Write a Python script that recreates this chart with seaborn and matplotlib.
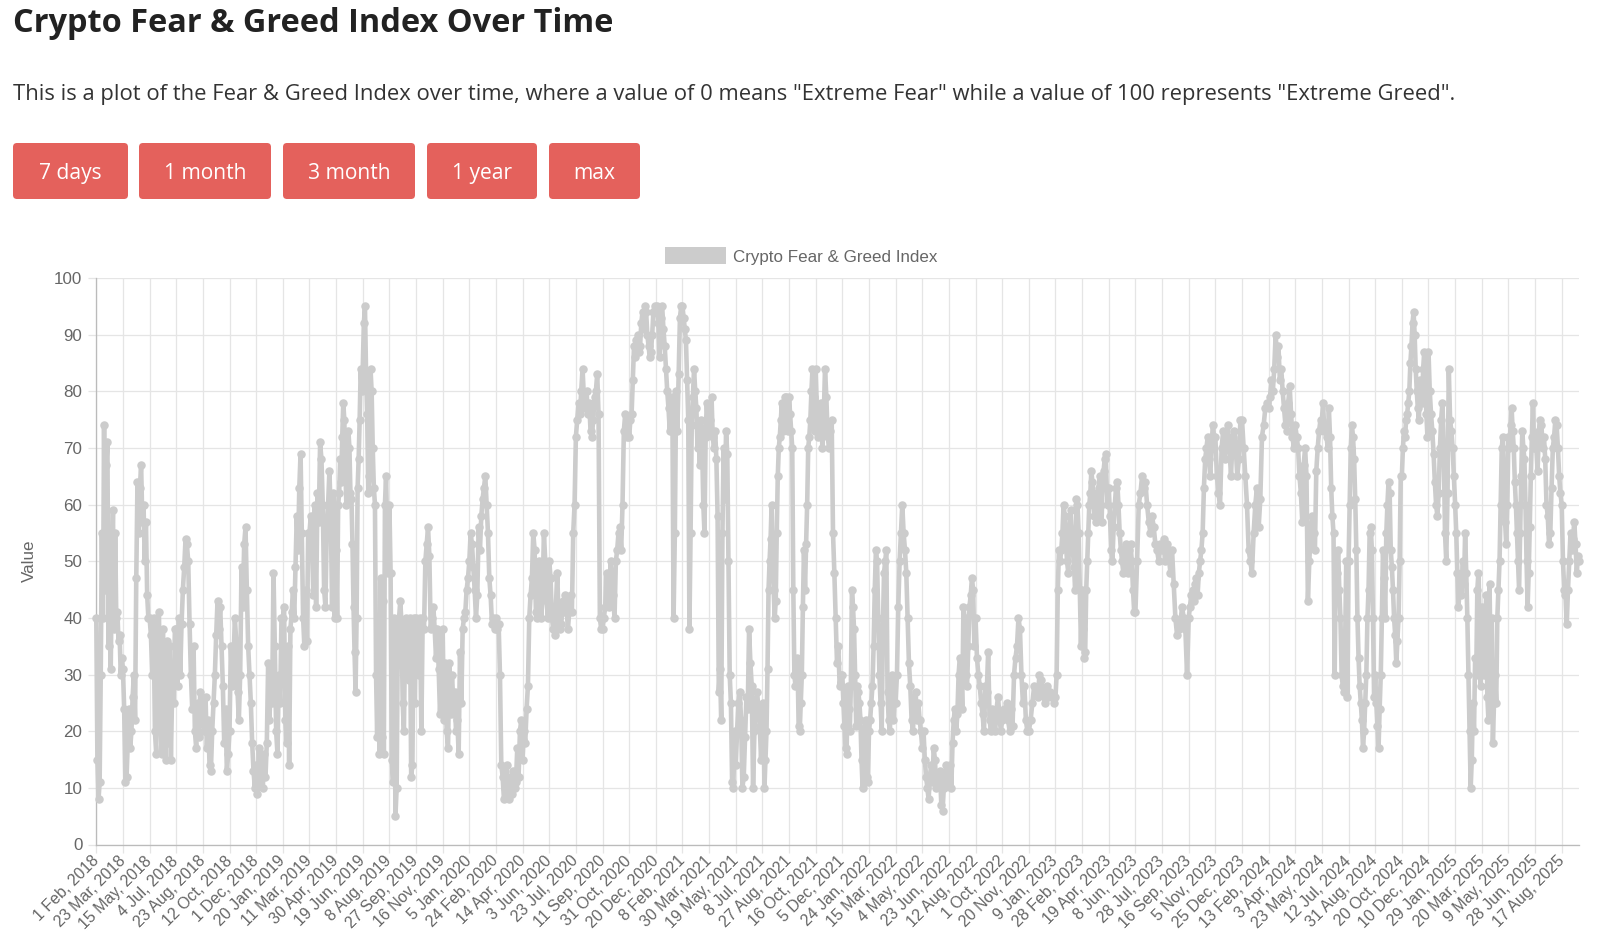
import numpy as np
import pandas as pd
import matplotlib
matplotlib.use("Agg")
import matplotlib.pyplot as plt
import seaborn as sns
from matplotlib.patches import FancyBboxPatch, Patch

# ---------------- text content ----------------
page_title = "Crypto Fear & Greed Index Over Time"
page_subtitle = ('This is a plot of the Fear & Greed Index over time, where a value of 0 means '
                 '"Extreme Fear" while a value of 100 represents "Extreme Greed".')
button_labels = ["7 days", "1 month", "3 month", "1 year", "max"]
series_name = "Crypto Fear & Greed Index"
y_label = "Value"

# category-axis labels shown by the chart (every 50th daily point)
tick_labels = [
    "1 Feb, 2018", "23 Mar, 2018", "15 May, 2018", "4 Jul, 2018", "23 Aug, 2018", "12 Oct, 2018",
    "1 Dec, 2018", "20 Jan, 2019", "11 Mar, 2019", "30 Apr, 2019", "19 Jun, 2019", "8 Aug, 2019",
    "27 Sep, 2019", "16 Nov, 2019", "5 Jan, 2020", "24 Feb, 2020", "14 Apr, 2020", "3 Jun, 2020",
    "23 Jul, 2020", "11 Sep, 2020", "31 Oct, 2020", "20 Dec, 2020", "8 Feb, 2021", "30 Mar, 2021",
    "19 May, 2021", "8 Jul, 2021", "27 Aug, 2021", "16 Oct, 2021", "5 Dec, 2021", "24 Jan, 2022",
    "15 Mar, 2022", "4 May, 2022", "23 Jun, 2022", "12 Aug, 2022", "1 Oct, 2022", "20 Nov, 2022",
    "9 Jan, 2023", "28 Feb, 2023", "19 Apr, 2023", "8 Jun, 2023", "28 Jul, 2023", "16 Sep, 2023",
    "5 Nov, 2023", "25 Dec, 2023", "13 Feb, 2024", "3 Apr, 2024", "23 May, 2024", "12 Jul, 2024",
    "31 Aug, 2024", "20 Oct, 2024", "10 Dec, 2024", "29 Jan, 2025", "20 Mar, 2025", "9 May, 2025",
    "28 Jun, 2025", "17 Aug, 2025",
]
label_every = 50      # one axis label per 50 daily points
n_points = 2784       # daily points on the category axis

# ---------------- values ----------------
# one inner list per label interval (readings in time order inside that interval)
fng_2018 = [
    [40, 15, 8, 11, 30, 55, 40, 74, 45, 67, 71, 35, 55, 31, 48, 59, 38, 55, 40, 41, 36, 37, 30, 33],
    [31, 24, 11, 12, 18, 24, 17, 20, 26, 30, 22, 47, 64, 55, 63, 67, 57, 60, 50, 57, 44, 40],
    [40, 37, 30, 40, 20, 16, 36, 41, 25, 16, 38, 22, 15, 36, 18, 35, 15, 28, 25, 38],
    [38, 28, 40, 30, 39, 45, 49, 54, 53, 50, 39, 30, 24, 35, 20, 17, 25, 19, 27, 24],
    [22, 20, 26, 17, 22, 14, 13, 20, 25, 30, 37, 43, 38, 42, 35, 28, 18, 24, 13, 16],
    [20, 35, 28, 32, 40, 36, 27, 22, 30, 49, 42, 53, 56, 45, 35, 30, 25, 18, 13, 10],
    [14, 9, 17, 11, 15, 10, 16, 12, 18, 32, 22, 30, 25, 48, 35, 20, 16, 30, 25, 40],
]
fng_2019 = [
    [40, 42, 22, 18, 35, 14, 38, 41, 45, 40, 49, 58, 52, 63, 69, 55, 40, 35, 45, 36, 55],
    [55, 58, 52, 44, 60, 42, 62, 57, 71, 68, 60, 45, 42, 56, 60, 66, 58, 42, 62, 40],
    [52, 40, 60, 62, 68, 64, 72, 78, 75, 67, 60, 65, 73, 70, 62, 61, 53, 42, 34, 27, 40, 63, 68, 75, 84, 80],
    [84, 92, 95, 83, 76, 62, 65, 84, 80, 70, 63, 60, 30, 19, 40, 16, 47, 19, 43, 16, 60, 65, 55, 48],
    [60, 48, 15, 11, 40, 5, 10, 38, 40, 43, 39, 25, 20, 38, 40, 35, 29, 40, 12, 14, 40, 25],
    [40, 37, 30, 40, 20, 40, 38, 50, 53, 56, 51, 38, 40, 42, 38, 33, 38, 31, 23, 30],
    [38, 22, 32, 20, 17, 32, 23, 30, 25, 27, 20, 22, 16, 34, 25, 38, 40, 41, 45, 47],
]
fng_2020 = [
    [50, 55, 53, 49, 45, 40, 44, 56, 52, 58, 61, 63, 65, 60, 55, 47, 44, 39, 40, 38],
    [40, 38, 39, 30, 14, 12, 8, 10, 14, 11, 8, 12, 9, 13, 10, 11, 17, 12, 20, 22],
    [15, 20, 18, 24, 28, 40, 44, 47, 55, 52, 41, 40, 50, 46, 40, 44, 55, 50, 43, 40],
    [50, 47, 40, 38, 37, 42, 48, 40, 38, 39, 43, 41, 44, 42, 38, 41, 44, 41, 55, 60],
    [72, 75, 78, 76, 80, 84, 79, 77, 80, 76, 78, 73, 72, 75, 79, 80, 83, 76, 40, 38],
    [38, 40, 42, 48, 46, 42, 50, 47, 44, 40, 50, 52, 55, 56, 52, 60, 73, 76, 72, 75],
    [72, 75, 76, 82, 88, 86, 89, 90, 87, 88, 92, 94, 91, 95, 94, 90, 88, 86, 87, 90, 94, 95],
    [94, 95, 92, 86, 93, 95, 91, 88, 84, 80, 77, 73, 78, 79, 40, 55, 80, 73, 83, 93, 95],
]
fng_2021 = [
    [95, 93, 91, 89, 82, 75, 38, 55, 74, 79, 84, 80, 77, 70, 73, 67, 75, 70, 60, 55, 72, 78, 74],
    [73, 75, 79, 72, 70, 73, 68, 58, 27, 31, 22, 55, 70, 61, 73, 69, 50, 30, 25, 11, 10, 20],
    [14, 20, 25, 27, 22, 10, 12, 19, 26, 24, 38, 32, 28, 10, 20, 25, 27, 24, 21, 15],
    [22, 25, 10, 15, 20, 31, 45, 50, 54, 60, 50, 45, 40, 43, 55, 65, 70, 72, 75, 78, 73, 76, 79, 79, 76, 73],
    [79, 76, 73, 70, 45, 30, 28, 33, 32, 21, 20, 25, 30, 42, 52, 45, 53, 60, 70, 72, 75, 80, 84, 79, 73],
    [84, 76, 72, 74, 78, 70, 75, 84, 79, 72, 70, 73, 75, 55, 48, 40, 32, 35, 28, 30],
    [30, 25, 21, 17, 16, 28, 24, 20, 28, 45, 42, 38, 30, 21, 28, 27, 25, 22, 15, 10, 13, 20, 22, 12, 11],
]
fng_2022 = [
    [20, 22, 25, 28, 35, 45, 52, 50, 40, 30, 25, 20, 38, 48, 50, 52, 27, 22, 20, 25, 30, 22, 25],
    [25, 30, 42, 50, 55, 60, 55, 52, 48, 40, 32, 28, 22, 20, 25, 27, 22, 25, 22, 20],
    [17, 20, 15, 12, 10, 8, 12, 14, 11, 17, 15, 10, 12, 11, 13, 7, 6, 10, 12, 14, 11],
    [12, 14, 10, 18, 22, 24, 20, 23, 30, 33, 31, 24, 42, 40, 30, 28, 35, 42, 44, 47, 45, 35],
    [40, 33, 30, 28, 25, 23, 20, 28, 27, 34, 22, 20, 24, 22, 20, 24, 26, 23, 20],
    [22, 24, 23, 25, 22, 20, 24, 21, 30, 33, 35, 40, 38, 30, 25, 28, 22, 20],
    [20, 22, 25, 28, 27, 26, 30, 29, 27, 25, 28, 26, 27, 26, 25],
]
fng_2023 = [
    [26, 30, 45, 52, 50, 52, 55, 60, 58, 53, 50, 48, 56, 59, 55, 52, 49, 45, 61, 60, 55, 45, 35],
    [45, 38, 33, 34, 45, 50, 55, 60, 62, 66, 64, 62, 58, 60, 57, 61, 63, 65, 60, 57, 64, 66, 68, 69, 63, 60],
    [63, 58, 52, 50, 56, 60, 63, 64, 60, 55, 52, 50, 48, 51, 53, 50, 48, 52, 53, 50, 45, 41],
    [41, 50, 60, 62, 65, 63, 64, 60, 57, 55, 58, 56, 53, 52, 50, 53],
    [52, 54, 50, 53, 51, 48, 52, 46, 40, 37, 38, 39, 42, 40, 38, 30],
    [40, 42, 44, 45, 43, 46, 47, 44, 48, 50, 52, 55, 63, 68, 70, 72, 68, 65, 70, 74, 72],
    [72, 65, 62, 60, 70, 73, 68, 72, 74, 70, 65, 72, 73, 70, 65, 68, 75],
    [75, 70, 65, 60, 52, 50, 48, 55, 60, 63, 56, 61, 72, 74, 77, 78],
]
fng_2024 = [
    [77, 79, 82, 80, 84, 90, 86, 88, 82, 84, 80, 77, 74, 73, 78, 81, 76, 72, 70],
    [74, 72, 70, 65, 62, 57, 67, 70, 65, 43, 50, 55, 58, 55, 52, 66, 70, 73, 75],
    [75, 78, 73, 74, 72, 70, 77, 72, 63, 58, 55, 30, 50, 48, 52, 45, 40, 30, 28, 27, 35, 50, 26],
    [50, 60, 70, 74, 72, 68, 61, 52, 40, 33, 28, 25, 22, 17, 20, 25, 30, 40, 45, 55, 56, 52, 40, 26],
    [30, 25, 21, 17, 24, 30, 40, 52, 47, 40, 55, 60, 64, 62, 52, 49, 45, 40, 37, 32, 36, 40, 50, 65],
    [65, 70, 73, 72, 75, 76, 78, 80, 85, 88, 92, 94, 90, 84, 80, 77, 75, 82, 80, 78, 84, 87, 82, 76, 72],
    [87, 80, 76, 73, 69, 64, 60, 58, 62, 70, 75, 78, 70, 55, 50, 62, 84, 75, 73, 70, 65],
]
fng_2025 = [
    [60, 55, 48, 42, 45, 44, 47, 50, 46, 55, 48, 40, 30, 20, 10, 15, 25, 20, 33, 30, 45, 48, 40, 28],
    [42, 33, 30, 36, 44, 26, 22, 46, 30, 40, 18, 25, 30, 25, 40, 45, 50, 60, 70, 72, 65, 57, 53, 60],
    [72, 70, 74, 77, 73, 70, 64, 60, 55, 50, 45, 55, 65, 73, 70, 68, 60, 50, 42, 48, 56, 65, 72, 78, 70],
    [72, 70, 66, 73, 75, 74, 70, 72, 68, 60, 58, 53, 55, 63, 70, 72, 75, 74, 70, 65, 62],
    [60, 50, 45, 44, 39, 45, 50, 55, 52, 54, 57, 53, 48, 51, 50],
]

intervals = fng_2018 + fng_2019 + fng_2020 + fng_2021 + fng_2022 + fng_2023 + fng_2024 + fng_2025
pos, val = [], []
last = len(intervals) - 1
for k, vals in enumerate(intervals):
    start = k * label_every
    if k < last:
        offs = np.linspace(0, label_every, len(vals), endpoint=False)
    else:
        offs = np.linspace(0, n_points - 1 - start, len(vals))
    pos.extend(start + offs)
    val.extend(vals)
df = pd.DataFrame({"point": pos, "value": val})

# ---------------- styling ----------------
sns.set_theme(style="white")
plt.rcParams["font.family"] = ["Liberation Sans", "DejaVu Sans"]

PX = 72 / 100  # points per pixel at dpi 100
grey_text = "#666666"
grid_col = "#e5e5e5"
line_col = "#cccccc"
btn_col = "#e4615c"
page_font = ["Open Sans", "Lato", "DejaVu Sans"]

fig = plt.figure(figsize=(16, 9.52), dpi=100)

# page layer in pixel coordinates
page = fig.add_axes([0, 0, 1, 1], zorder=0)
page.set_xlim(0, 1600)
page.set_ylim(952, 0)
page.axis("off")

page.text(13, 24, page_title, fontsize=32.5 * PX, fontweight="bold", family=page_font,
          color="#222222", va="center", ha="left")
page.text(13, 94.5, page_subtitle, fontsize=22 * PX, family=page_font,
          color="#333333", va="center", ha="left")

btn_x = [(13, 128), (139, 271), (283, 415), (427, 537), (549, 640)]
for (x0, x1), lab in zip(btn_x, button_labels):
    page.add_patch(FancyBboxPatch((x0, 143), x1 - x0, 56,
                                  boxstyle="round,pad=0,rounding_size=4",
                                  facecolor=btn_col, edgecolor="none"))
    page.text((x0 + x1) / 2, 173.5, lab, fontsize=21 * PX, family=page_font,
              color="white", ha="center", va="center")

page.text(29, 561, y_label, rotation=90, fontsize=17 * PX, color=grey_text,
          ha="center", va="center")

# chart
ax = fig.add_axes([96.3 / 1600, 1 - 844.5 / 952, (1579.3 - 96.3) / 1600, (844.5 - 278) / 952], zorder=1)
ax.patch.set_alpha(0)

sns.lineplot(data=df, x="point", y="value", ax=ax, color=line_col, linewidth=4.6 * PX,
             marker="o", markersize=8.5 * PX, markeredgewidth=0, markerfacecolor=line_col,
             legend=False, zorder=3, clip_on=False, estimator=None, sort=False)

ax.set_xlim(0, n_points - 1)
ax.set_ylim(0, 100)
ax.set_xticks(np.arange(len(tick_labels)) * label_every)
ax.set_xticklabels(tick_labels, rotation=45, ha="right", va="center", rotation_mode="anchor",
                   fontsize=16 * PX, color=grey_text)
ax.set_yticks(np.arange(0, 101, 10))
ax.set_yticklabels([str(v) for v in range(0, 101, 10)], fontsize=17 * PX, color=grey_text)
ax.set_xlabel("")
ax.set_ylabel("")
ax.grid(True, color=grid_col, linewidth=1.3 * PX)
ax.set_axisbelow(True)
ax.tick_params(axis="x", length=8 * PX, width=1.3 * PX, color=grid_col, pad=6 * PX, bottom=True)
ax.tick_params(axis="y", length=8 * PX, width=1.3 * PX, color=grid_col, pad=6 * PX, left=True)
for s in ["top", "right"]:
    ax.spines[s].set_visible(False)
for s in ["left", "bottom"]:
    ax.spines[s].set_color("#bbbbbb")
    ax.spines[s].set_linewidth(1.3 * PX)

handle = Patch(facecolor=line_col, edgecolor="none", label=series_name)
fig.legend(handles=[handle], loc="center", bbox_to_anchor=(801 / 1600, 1 - 256 / 952),
           frameon=False, fontsize=17 * PX, labelcolor=grey_text,
           handlelength=3.6, handleheight=1.15, handletextpad=0.4)

fig.savefig("out.png", dpi=100, facecolor="white")
